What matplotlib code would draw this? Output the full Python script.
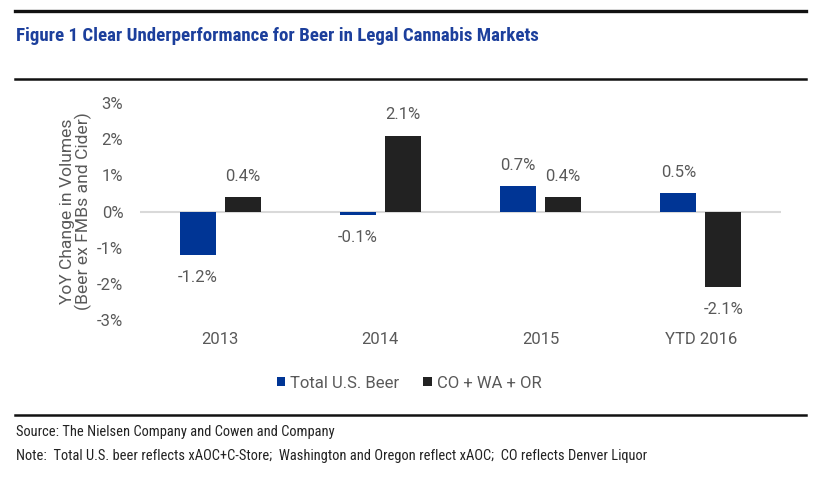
import matplotlib
matplotlib.use("Agg")
import matplotlib.pyplot as plt
from matplotlib.lines import Line2D
import numpy as np

categories = ["2013", "2014", "2015", "YTD 2016"]
series_names = ["Total U.S. Beer", "CO + WA + OR"]
total_us = [-1.2, -0.1, 0.7, 0.5]
co_wa_or = [0.4, 2.1, 0.4, -2.1]
yticks = [-3, -2, -1, 0, 1, 2, 3]

BLUE = "#003595"
DARK = "#222222"
GRAY = "#595959"
TITLE_BLUE = "#1c3f9c"

plt.rcParams['font.family'] = ['Roboto', 'DejaVu Sans']
narrow = ['Roboto Condensed', 'Archivo Narrow', 'DejaVu Sans']

fig = plt.figure(figsize=(8.19, 4.8), dpi=100)
ax = fig.add_axes([140/819, 1-320/480, 641/819, 217/480])

x = np.arange(len(categories))
w = 0.225
off = 0.14
b1 = ax.bar(x - off, total_us, w, color=BLUE, label=series_names[0])
b2 = ax.bar(x + off, co_wa_or, w, color=DARK, label=series_names[1])

for bars, vals in ((b1, total_us), (b2, co_wa_or)):
    for r, v in zip(bars, vals):
        cx = r.get_x() + r.get_width()/2
        dy = 15 if v >= 0 else -16
        ax.annotate(f"{v:.1f}%", (cx, v), xytext=(0, dy), textcoords="offset points",
                    ha="center", va="center", fontsize=12, color=GRAY)

ax.set_xlim(-0.5, 3.5)
ax.set_ylim(-3, 3)
ax.set_yticks(yticks)
ax.set_yticklabels([f"{t}%" for t in yticks])
ax.set_xticks(x)
ax.set_xticklabels(categories)
ax.tick_params(axis='both', length=0, labelsize=12, labelcolor=GRAY)
ax.tick_params(axis='y', pad=12)
ax.tick_params(axis='x', pad=9)
ax.axhline(0, color="#d9d9d9", lw=1.5, zorder=0)
for s in ax.spines.values():
    s.set_visible(False)
ax.set_ylabel("YoY Change in Volumes\n(Beer ex FMBs and Cider)", fontsize=12.6, color=GRAY,
              linespacing=1.0)
ax.yaxis.set_label_coords((92-140)/641, 0.5)

fig.legend(handles=[b1, b2], labels=series_names, loc="center", bbox_to_anchor=(409/819, 1-383/480),
           ncol=2, frameon=False, fontsize=12, handlelength=0.5, handleheight=0.5,
           handletextpad=0.3, columnspacing=1.45, labelcolor=GRAY)

texts = [
    ("Figure 1 Clear Underperformance for Beer in Legal Cannabis Markets", 36, 519, 'bold', TITLE_BLUE, 13),
    ("Source: The Nielsen Company and Cowen and Company", 432, 317, 'normal', "#222222", 10),
    ("Note:  Total U.S. beer reflects xAOC+C-Store;  Washington and Oregon reflect xAOC;  CO reflects Denver Liquor",
     456, 627, 'normal', "#222222", 10),
]
renderer = fig.canvas.get_renderer()
for s, yy, target, wt, col, fs in texts:
    t = fig.text(16/819, 1-yy/480, s, fontsize=fs, fontweight=wt, color=col, family=narrow,
                 va='center', ha='left')
    wpx = t.get_window_extent(renderer).width
    t.set_fontsize(fs * target / wpx)

for yy, lw in ((11, 2.4), (79, 1.8), (415, 1.8)):
    fig.add_artist(Line2D([15/819, 806/819], [1-yy/480, 1-yy/480], color="#111111", lw=lw,
                          transform=fig.transFigure))

fig.savefig("out.png", dpi=100)
